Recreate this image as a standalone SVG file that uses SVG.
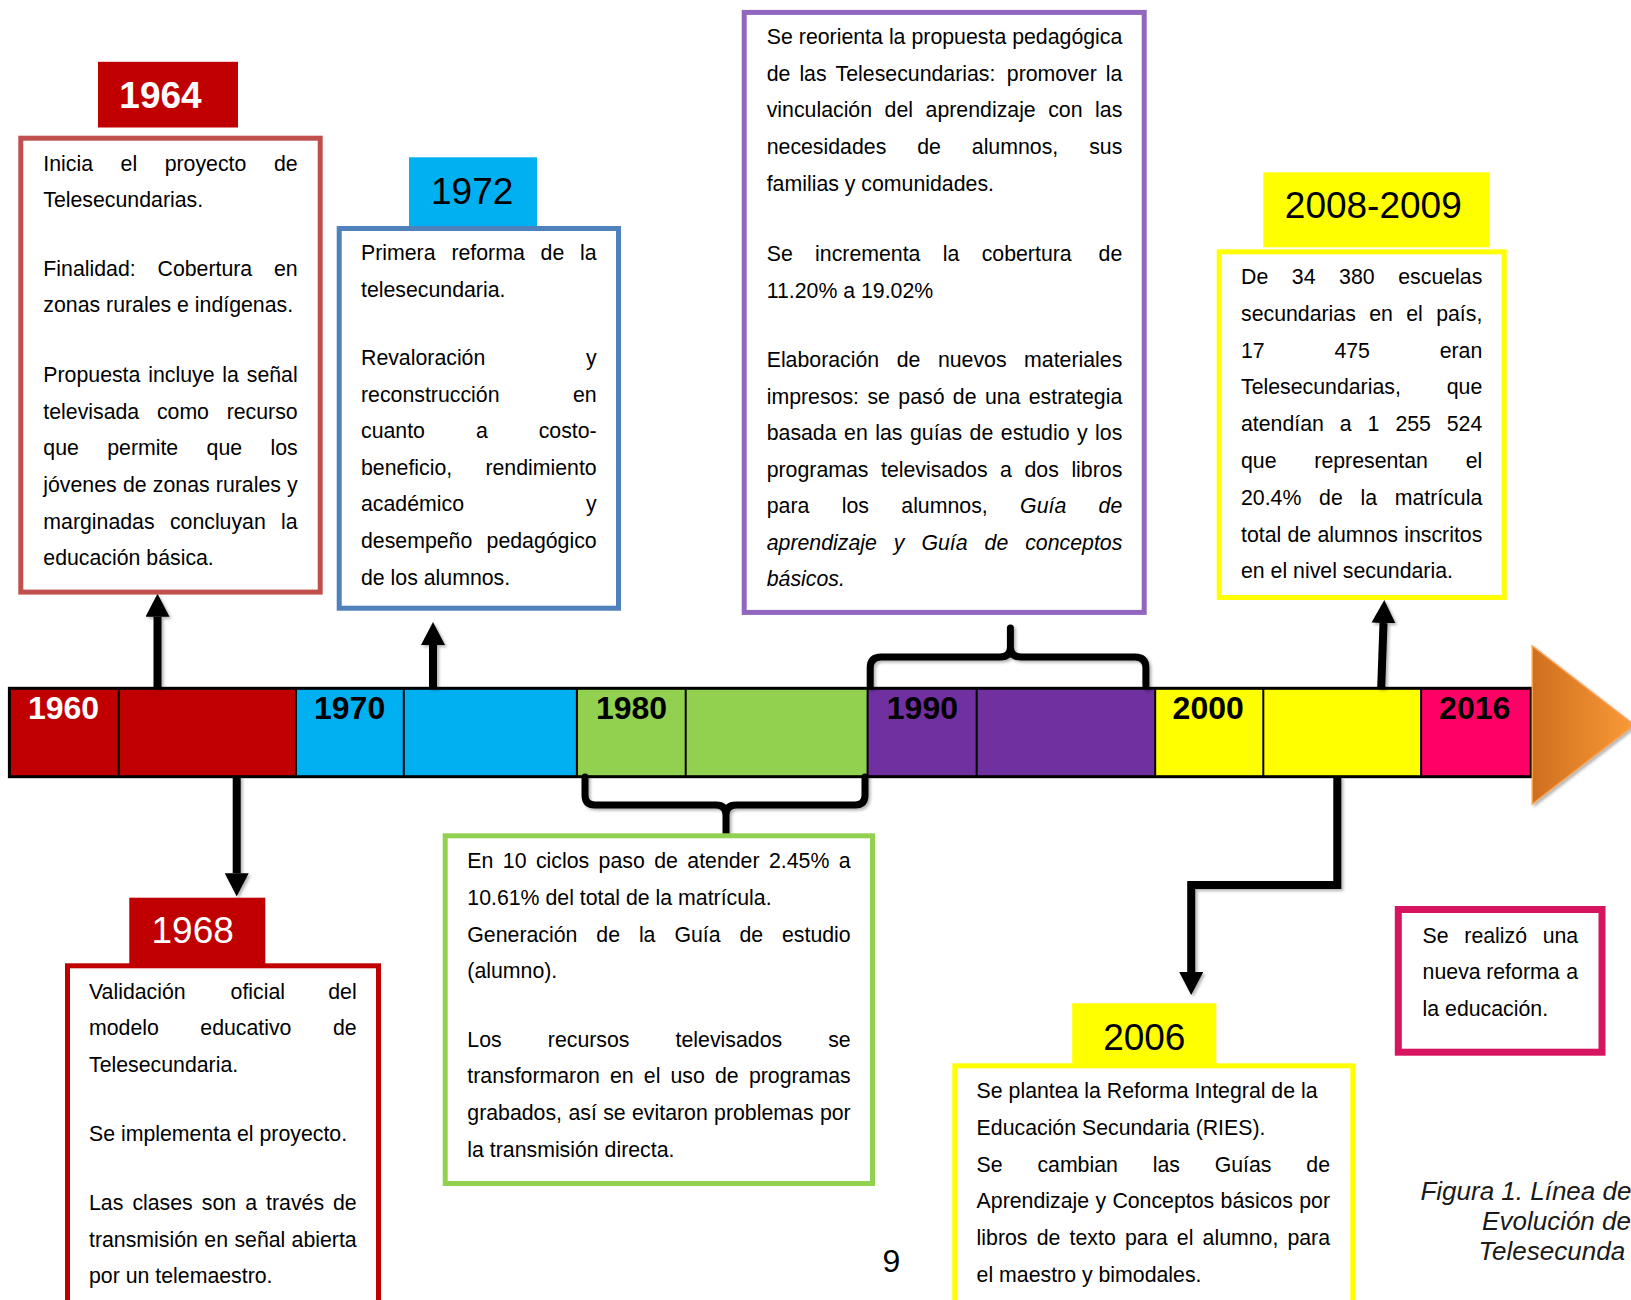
<svg xmlns="http://www.w3.org/2000/svg" width="1631" height="1300" viewBox="0 0 1631 1300">
<style>
.t{font-family:"Liberation Sans",Arial,sans-serif;font-size:21.3px;fill:#000}
.e{text-anchor:end}
.i{font-style:italic}
.box{fill:#fff;stroke-width:5}
.yr{font-family:"Liberation Sans",Arial,sans-serif;font-size:32px;font-weight:bold;text-anchor:middle}
.lab{font-family:"Liberation Sans",Arial,sans-serif;font-size:37px;text-anchor:middle}
.div{stroke:#000;stroke-width:2}
.con{fill:none;stroke:#000;stroke-width:8}
.br{fill:none;stroke:#000;stroke-width:7;stroke-linecap:round;stroke-linejoin:round}
</style>
<defs>
<marker id="ah" viewBox="0 0 23 24" refX="0" refY="12" markerWidth="23" markerHeight="24" markerUnits="userSpaceOnUse" orient="auto">
<path d="M0,0 L23,12 L0,24 z" fill="#000"/>
</marker>
<filter id="sh" x="-20%" y="-20%" width="140%" height="140%">
<feDropShadow dx="2" dy="2" stdDeviation="1.5" flood-color="#000" flood-opacity="0.3"/>
</filter>
<linearGradient id="og" x1="0" y1="0" x2="1" y2="0">
<stop offset="0" stop-color="#CF6F1E"/>
<stop offset="1" stop-color="#FA9A38"/>
</linearGradient>
</defs>
<rect width="1631" height="1300" fill="#fff"/>

<g id="timeline">
<rect x="9.4" y="688.3" width="286.6" height="88.4" fill="#C00000"/>
<rect x="296" y="688.3" width="280.9" height="88.4" fill="#00B0F0"/>
<rect x="576.9" y="688.3" width="290.7" height="88.4" fill="#92D050"/>
<rect x="867.6" y="688.3" width="287.6" height="88.4" fill="#7030A0"/>
<rect x="1155.2" y="688.3" width="265.9" height="88.4" fill="#FFFF00"/>
<rect x="1421.1" y="688.3" width="110.2" height="88.4" fill="#FF0066"/>
<line class="div" x1="118.7" y1="688.3" x2="118.7" y2="776.7"/>
<line class="div" x1="296" y1="688.3" x2="296" y2="776.7"/>
<line class="div" x1="403.8" y1="688.3" x2="403.8" y2="776.7"/>
<line class="div" x1="576.9" y1="688.3" x2="576.9" y2="776.7"/>
<line class="div" x1="685.7" y1="688.3" x2="685.7" y2="776.7"/>
<line class="div" x1="867.6" y1="688.3" x2="867.6" y2="776.7"/>
<line class="div" x1="976.7" y1="688.3" x2="976.7" y2="776.7"/>
<line class="div" x1="1155.2" y1="688.3" x2="1155.2" y2="776.7"/>
<line class="div" x1="1263.3" y1="688.3" x2="1263.3" y2="776.7"/>
<line class="div" x1="1421.1" y1="688.3" x2="1421.1" y2="776.7"/>
<rect x="9.4" y="688.3" width="1521.9" height="88.4" fill="none" stroke="#000" stroke-width="3"/>
<text class="yr" x="63.5" y="719.3" fill="#fff">1960</text>
<text class="yr" x="349.6" y="719.3">1970</text>
<text class="yr" x="631.5" y="719.3">1980</text>
<text class="yr" x="922.4" y="719.3">1990</text>
<text class="yr" x="1208.2" y="719.3">2000</text>
<text class="yr" x="1474.7" y="719.3">2016</text>
<polygon points="1532.3,646 1532.3,804 1634,725" fill="url(#og)" stroke="#F7A050" stroke-width="1.5" filter="url(#sh)"/>
</g>

<g id="connectors" filter="url(#sh)">
<path class="con" d="M157.5,688.3 V616.7" marker-end="url(#ah)"/>
<path class="con" d="M433,688.3 V645" marker-end="url(#ah)"/>
<path class="con" d="M1381.2,688.3 L1383.5,623" marker-end="url(#ah)"/>
<path class="con" d="M236.7,776.7 V873.3" marker-end="url(#ah)"/>
<path class="con" d="M1337.3,776.7 V885 H1191.2 V972" marker-end="url(#ah)"/>
<path class="br" d="M870.2,686 V668 Q870.2,657 881,657 H1000 Q1010.4,657 1010.4,647 V628 M1010.4,647 Q1010.4,657 1021,657 H1135 Q1145.9,657 1145.9,668 V686"/>
<path class="br" d="M585,777 V795 Q585,805 595,805 H716 Q726,805 726,815 V833 M726,815 Q726,805 736,805 H855 Q865,805 865,795 V777"/>
</g>

<g id="n1964">
<rect x="98" y="61.8" width="140" height="65.7" fill="#C00000"/>
<text class="lab" x="160.5" y="108" font-weight="bold" fill="#fff">1964</text>
<rect class="box" x="20.8" y="138.2" width="299.4" height="453.9" stroke="#C0504D"/>
<text class="t" y="170.7"><tspan x="43.3">Inicia</tspan><tspan x="120.6">el</tspan><tspan x="164.7">proyecto</tspan><tspan x="297.7" class="e">de</tspan></text>
<text class="t" x="43.3" y="207.3">Telesecundarias.</text>
<text class="t" y="275.7"><tspan x="43.3">Finalidad:</tspan><tspan x="157.5">Cobertura</tspan><tspan x="297.7" class="e">en</tspan></text>
<text class="t" x="43.3" y="312.3">zonas rurales e indígenas.</text>
<text class="t" y="382.1"><tspan x="43.3">Propuesta</tspan><tspan x="148.2">incluye</tspan><tspan x="222.3">la</tspan><tspan x="297.7" class="e">señal</tspan></text>
<text class="t" y="418.7"><tspan x="43.3">televisada</tspan><tspan x="156.9">como</tspan><tspan x="297.7" class="e">recurso</tspan></text>
<text class="t" y="455.3"><tspan x="43.3">que</tspan><tspan x="107.2">permite</tspan><tspan x="206.6">que</tspan><tspan x="297.7" class="e">los</tspan></text>
<text class="t" y="491.9"><tspan x="43.3">jóvenes</tspan><tspan x="122.9">de</tspan><tspan x="152.8">zonas</tspan><tspan x="215.8">rurales</tspan><tspan x="297.7" class="e">y</tspan></text>
<text class="t" y="528.5"><tspan x="43.3">marginadas</tspan><tspan x="169.9">concluyan</tspan><tspan x="297.7" class="e">la</tspan></text>
<text class="t" x="43.3" y="565.1">educación básica.</text>
</g>

<g id="n1972">
<rect x="409" y="157.3" width="128" height="71" fill="#00B0F0"/>
<text class="lab" x="472.2" y="204.3" fill="#000">1972</text>
<rect class="box" x="339.2" y="228.5" width="279.3" height="379.7" stroke="#4F81BD"/>
<text class="t" y="260"><tspan x="361">Primera</tspan><tspan x="451.4">reforma</tspan><tspan x="540.6">de</tspan><tspan x="596.7" class="e">la</tspan></text>
<text class="t" x="361" y="296.6">telesecundaria.</text>
<text class="t" y="365"><tspan x="361">Revaloración</tspan><tspan x="596.7" class="e">y</tspan></text>
<text class="t" y="401.6"><tspan x="361">reconstrucción</tspan><tspan x="596.7" class="e">en</tspan></text>
<text class="t" y="438.2"><tspan x="361">cuanto</tspan><tspan x="475.9">a</tspan><tspan x="596.7" class="e">costo-</tspan></text>
<text class="t" y="474.8"><tspan x="361">beneficio,</tspan><tspan x="596.7" class="e">rendimiento</tspan></text>
<text class="t" y="511.4"><tspan x="361">académico</tspan><tspan x="596.7" class="e">y</tspan></text>
<text class="t" y="548"><tspan x="361">desempeño</tspan><tspan x="596.7" class="e">pedagógico</tspan></text>
<text class="t" x="361" y="584.6">de los alumnos.</text>
</g>

<g id="n1990">
<rect class="box" x="744.2" y="12.4" width="400" height="600" stroke="#9166BE"/>
<text class="t" y="44.3"><tspan x="766.7">Se</tspan><tspan x="798.8">reorienta</tspan><tspan x="888.9">la</tspan><tspan x="911.5">propuesta</tspan><tspan x="1122.3" class="e">pedagógica</tspan></text>
<text class="t" y="80.9"><tspan x="766.7">de</tspan><tspan x="799.4">las</tspan><tspan x="835.6">Telesecundarias:</tspan><tspan x="1006.8">promover</tspan><tspan x="1122.3" class="e">la</tspan></text>
<text class="t" y="117.4"><tspan x="766.7">vinculación</tspan><tspan x="884.6">del</tspan><tspan x="925.6">aprendizaje</tspan><tspan x="1048.2">con</tspan><tspan x="1122.3" class="e">las</tspan></text>
<text class="t" y="154"><tspan x="766.7">necesidades</tspan><tspan x="917.2">de</tspan><tspan x="971.8">alumnos,</tspan><tspan x="1122.3" class="e">sus</tspan></text>
<text class="t" x="766.7" y="190.5">familias y comunidades.</text>
<text class="t" y="261"><tspan x="766.7">Se</tspan><tspan x="815.1">incrementa</tspan><tspan x="942.8">la</tspan><tspan x="981.7">cobertura</tspan><tspan x="1122.3" class="e">de</tspan></text>
<text class="t" x="766.7" y="297.5">11.20% a 19.02%</text>
<text class="t" y="367"><tspan x="766.7">Elaboración</tspan><tspan x="896.7">de</tspan><tspan x="937.9">nuevos</tspan><tspan x="1122.3" class="e">materiales</tspan></text>
<text class="t" y="403.5"><tspan x="766.7">impresos:</tspan><tspan x="867.4">se</tspan><tspan x="898.3">pasó</tspan><tspan x="952.8">de</tspan><tspan x="984.9">una</tspan><tspan x="1122.3" class="e">estrategia</tspan></text>
<text class="t" y="440"><tspan x="766.7">basada</tspan><tspan x="844.1">en</tspan><tspan x="875.3">las</tspan><tspan x="910">guías</tspan><tspan x="969.6">de</tspan><tspan x="1000.8">estudio</tspan><tspan x="1077">y</tspan><tspan x="1122.3" class="e">los</tspan></text>
<text class="t" y="476.5"><tspan x="766.7">programas</tspan><tspan x="881">televisados</tspan><tspan x="1000.1">a</tspan><tspan x="1024.5">dos</tspan><tspan x="1122.3" class="e">libros</tspan></text>
<text class="t" y="513"><tspan x="766.7">para</tspan><tspan x="841.7">los</tspan><tspan x="901.3">alumnos,</tspan><tspan x="1020.1" class="i">Guía</tspan><tspan x="1122.3" class="e i">de</tspan></text>
<text class="t i" y="549.5"><tspan x="766.7">aprendizaje</tspan><tspan x="893.8">y</tspan><tspan x="921.4">Guía</tspan><tspan x="984.6">de</tspan><tspan x="1122.3" class="e">conceptos</tspan></text>
<text class="t i" x="766.7" y="586">básicos.</text>
</g>

<g id="n2008">
<rect x="1263.3" y="172.3" width="225.7" height="75" fill="#FFFF00"/>
<text class="lab" x="1373.3" y="218.3" fill="#000">2008-2009</text>
<rect class="box" x="1219.2" y="251.8" width="285" height="345.7" stroke="#FFFF00"/>
<text class="t" y="284"><tspan x="1241">De</tspan><tspan x="1291.8">34</tspan><tspan x="1339.1">380</tspan><tspan x="1482.3" class="e">escuelas</tspan></text>
<text class="t" y="320.8"><tspan x="1241">secundarias</tspan><tspan x="1369.2">en</tspan><tspan x="1406.2">el</tspan><tspan x="1482.3" class="e">país,</tspan></text>
<text class="t" y="357.6"><tspan x="1241">17</tspan><tspan x="1334.4">475</tspan><tspan x="1482.3" class="e">eran</tspan></text>
<text class="t" y="394.4"><tspan x="1241">Telesecundarias,</tspan><tspan x="1482.3" class="e">que</tspan></text>
<text class="t" y="431.2"><tspan x="1241">atendían</tspan><tspan x="1339.8">a</tspan><tspan x="1367.6">1</tspan><tspan x="1395.4">255</tspan><tspan x="1482.3" class="e">524</tspan></text>
<text class="t" y="468"><tspan x="1241">que</tspan><tspan x="1314.3">representan</tspan><tspan x="1482.3" class="e">el</tspan></text>
<text class="t" y="504.8"><tspan x="1241">20.4%</tspan><tspan x="1319.1">de</tspan><tspan x="1360.5">la</tspan><tspan x="1482.3" class="e">matrícula</tspan></text>
<text class="t" y="541.6"><tspan x="1241">total</tspan><tspan x="1287.5">de</tspan><tspan x="1317.4">alumnos</tspan><tspan x="1482.3" class="e">inscritos</tspan></text>
<text class="t" x="1241" y="578.4">en el nivel secundaria.</text>
</g>

<g id="n1968">
<rect x="129.3" y="897.7" width="136" height="67" fill="#C00000"/>
<text class="lab" x="192.7" y="943.3" fill="#fff">1968</text>
<rect class="box" x="67.5" y="965.8" width="311" height="400" stroke="#C00000"/>
<text class="t" y="998.5"><tspan x="89">Validación</tspan><tspan x="230.6">oficial</tspan><tspan x="356.7" class="e">del</tspan></text>
<text class="t" y="1035"><tspan x="89">modelo</tspan><tspan x="200.3">educativo</tspan><tspan x="356.7" class="e">de</tspan></text>
<text class="t" x="89" y="1071.5">Telesecundaria.</text>
<text class="t" x="89" y="1141">Se implementa el proyecto.</text>
<text class="t" y="1210"><tspan x="89">Las</tspan><tspan x="132.4">clases</tspan><tspan x="201.8">son</tspan><tspan x="245.2">a</tspan><tspan x="266.1">través</tspan><tspan x="356.7" class="e">de</tspan></text>
<text class="t" y="1246.5"><tspan x="89">transmisión</tspan><tspan x="204.3">en</tspan><tspan x="234.4">señal</tspan><tspan x="356.7" class="e">abierta</tspan></text>
<text class="t" x="89" y="1283">por un telemaestro.</text>
</g>

<g id="n1980">
<rect class="box" x="445.2" y="835.8" width="427.3" height="347.7" stroke="#92D050"/>
<text class="t" y="868.3"><tspan x="467.3">En</tspan><tspan x="502.8">10</tspan><tspan x="535.9">ciclos</tspan><tspan x="598.6">paso</tspan><tspan x="654.2">de</tspan><tspan x="687.3">atender</tspan><tspan x="769">2.45%</tspan><tspan x="850.7" class="e">a</tspan></text>
<text class="t" x="467.3" y="905">10.61% del total de la matrícula.</text>
<text class="t" y="941.7"><tspan x="467.3">Generación</tspan><tspan x="596.3">de</tspan><tspan x="638.9">la</tspan><tspan x="674.4">Guía</tspan><tspan x="739.5">de</tspan><tspan x="850.7" class="e">estudio</tspan></text>
<text class="t" x="467.3" y="977.7">(alumno).</text>
<text class="t" y="1046.7"><tspan x="467.3">Los</tspan><tspan x="547.8">recursos</tspan><tspan x="675.6">televisados</tspan><tspan x="850.7" class="e">se</tspan></text>
<text class="t" y="1083.3"><tspan x="467.3">transformaron</tspan><tspan x="610">en</tspan><tspan x="643.8">el</tspan><tspan x="670.5">uso</tspan><tspan x="715">de</tspan><tspan x="850.7" class="e">programas</tspan></text>
<text class="t" y="1120"><tspan x="467.3">grabados,</tspan><tspan x="568.4">así</tspan><tspan x="603.2">se</tspan><tspan x="632">evitaron</tspan><tspan x="714.1">problemas</tspan><tspan x="850.7" class="e">por</tspan></text>
<text class="t" x="467.3" y="1156.7">la transmisión directa.</text>
</g>

<g id="n2006">
<rect x="1072.2" y="1003.3" width="144.1" height="62" fill="#FFFF00"/>
<text class="lab" x="1144.3" y="1050" fill="#000">2006</text>
<rect class="box" x="954.8" y="1065.8" width="398" height="300" stroke="#FFFF00"/>
<text class="t" x="976.6" y="1098.3">Se plantea la Reforma Integral de la</text>
<text class="t" x="976.6" y="1135">Educación Secundaria (RIES).</text>
<text class="t" y="1171.7"><tspan x="976.6">Se</tspan><tspan x="1037.4">cambian</tspan><tspan x="1152.7">las</tspan><tspan x="1214.7">Guías</tspan><tspan x="1330" class="e">de</tspan></text>
<text class="t" y="1208.3"><tspan x="976.6">Aprendizaje</tspan><tspan x="1095.4">y</tspan><tspan x="1112.4">Conceptos</tspan><tspan x="1220.6">básicos</tspan><tspan x="1330" class="e">por</tspan></text>
<text class="t" y="1245"><tspan x="976.6">libros</tspan><tspan x="1036.7">de</tspan><tspan x="1069.6">texto</tspan><tspan x="1125">para</tspan><tspan x="1176.8">el</tspan><tspan x="1202.6">alumno,</tspan><tspan x="1330" class="e">para</tspan></text>
<text class="t" x="976.6" y="1281.7">el maestro y bimodales.</text>
</g>

<g id="n2016">
<rect x="1398.3" y="909.5" width="203.7" height="142.7" fill="#fff" stroke="#D6145F" stroke-width="7"/>
<text class="t" y="942.7"><tspan x="1422.6">Se</tspan><tspan x="1464.3">realizó</tspan><tspan x="1578.2" class="e">una</tspan></text>
<text class="t" y="979.3"><tspan x="1422.6">nueva</tspan><tspan x="1486.2">reforma</tspan><tspan x="1578.2" class="e">a</tspan></text>
<text class="t" x="1422.6" y="1016">la educación.</text>
</g>

<g id="caption" font-family="Liberation Sans, Arial, sans-serif" font-size="26" font-style="italic" fill="#1a1a1a">
<text x="1420.4" y="1200">Figura 1. Línea de</text>
<text x="1482.1" y="1230">Evolución de</text>
<text x="1478.6" y="1260">Telesecunda</text>
</g>

<text id="page" x="891.4" y="1271.7" font-family="Liberation Sans, Arial, sans-serif" font-size="32" text-anchor="middle" fill="#000">9</text>
</svg>
